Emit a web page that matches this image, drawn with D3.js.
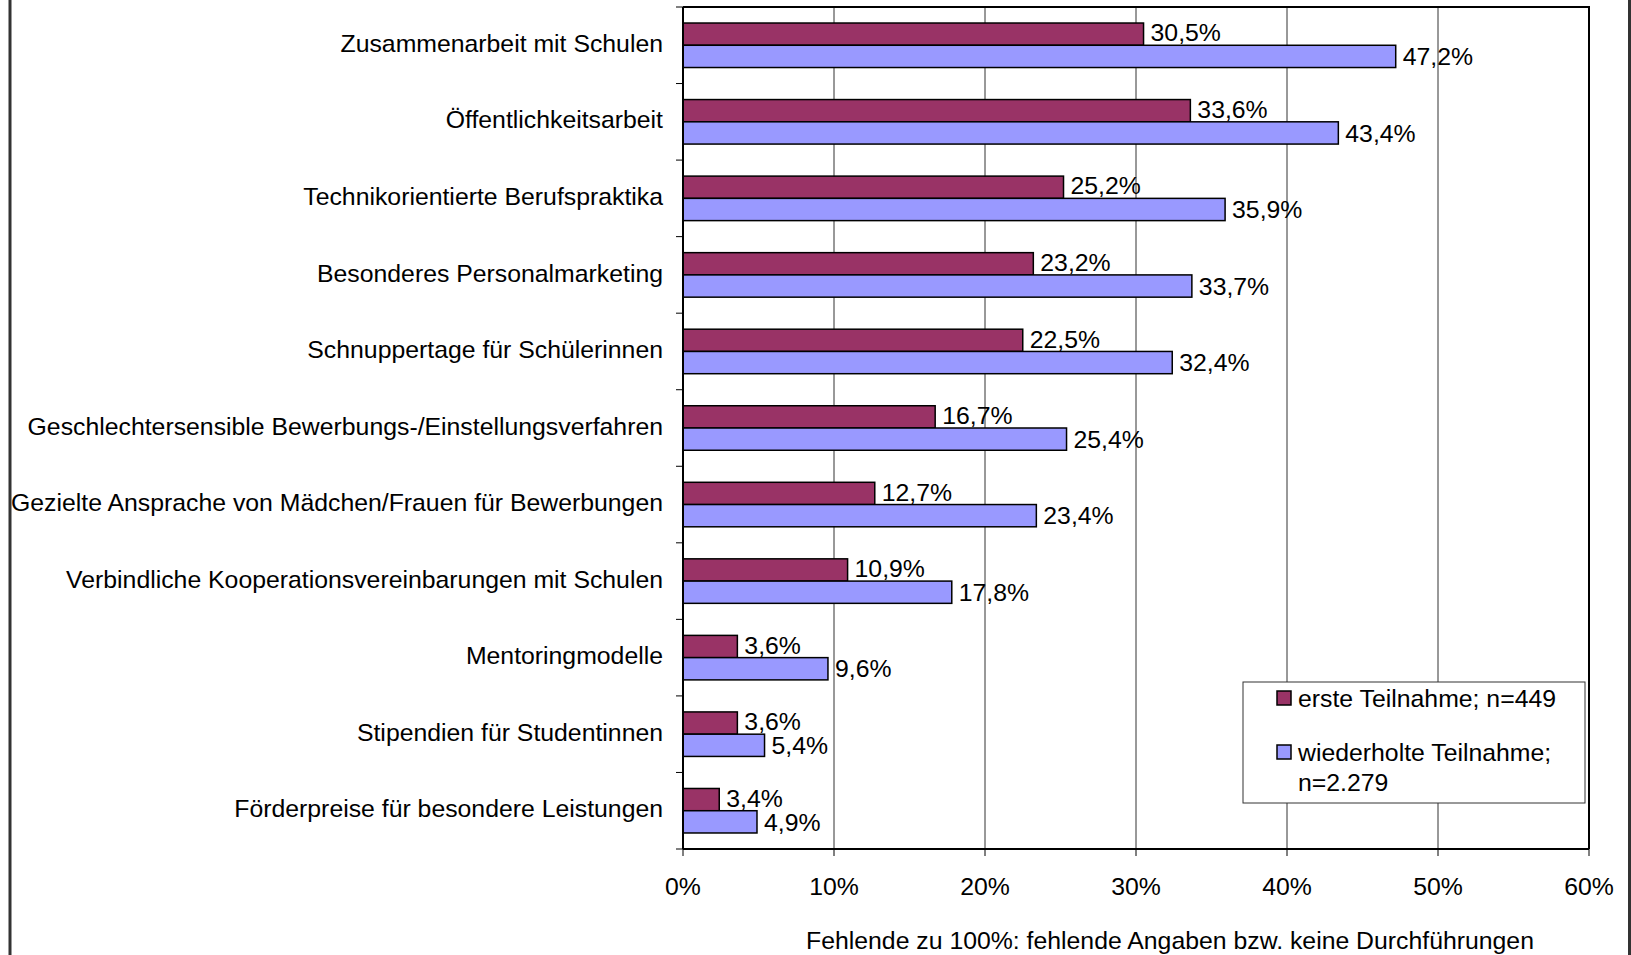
<!DOCTYPE html>
<html>
<head>
<meta charset="utf-8">
<script src="https://cdn.jsdelivr.net/npm/d3@7"></script>
<style>
  body { margin: 0; background: #fff; }
  svg text { font-family: "Liberation Sans", Arial, sans-serif; fill: #000; }
</style>
</head>
<body>
<div id="Chart"></div>
<script>
var w = 1631;
var h = 955;

var categories = [
    "Zusammenarbeit mit Schulen",
    "Öffentlichkeitsarbeit",
    "Technikorientierte Berufspraktika",
    "Besonderes Personalmarketing",
    "Schnuppertage für Schülerinnen",
    "Geschlechtersensible Bewerbungs-/Einstellungsverfahren",
    "Gezielte Ansprache von Mädchen/Frauen für Bewerbungen",
    "Verbindliche Kooperationsvereinbarungen mit Schulen",
    "Mentoringmodelle",
    "Stipendien für Studentinnen",
    "Förderpreise für besondere Leistungen"
];

// bar lengths as drawn (the last red bar is drawn shorter than its label says)
var erste = [30.5, 33.6, 25.2, 23.2, 22.5, 16.7, 12.7, 10.9, 3.6, 3.6, 2.4];
var wiederholte = [47.2, 43.4, 35.9, 33.7, 32.4, 25.4, 23.4, 17.8, 9.6, 5.4, 4.9];

// labels as printed on the chart
var ersteLabels = ["30,5%", "33,6%", "25,2%", "23,2%", "22,5%", "16,7%", "12,7%", "10,9%", "3,6%", "3,6%", "3,4%"];
var wiederholteLabels = ["47,2%", "43,4%", "35,9%", "33,7%", "32,4%", "25,4%", "23,4%", "17,8%", "9,6%", "5,4%", "4,9%"];

var xTicks = [0, 10, 20, 30, 40, 50, 60];
var seriesNames = ["erste Teilnahme; n=449", "wiederholte Teilnahme;|n=2.279"];
var seriesColors = ["#993366", "#9999FF"];
var footnote = "Fehlende zu 100%: fehlende Angaben bzw. keine Durchführungen";

var fs = 24.8;

var svg = d3.select("#Chart").append("svg")
    .attr("width", w)
    .attr("height", h);

var pLeft = 683, pRight = 1589, pTop = 7, pBottom = 849;

var x = d3.scaleLinear().domain([0, 60]).range([pLeft, pRight]);
var y = d3.scaleBand().domain(categories).range([pTop, pBottom]);
var sub = d3.scaleBand().domain([0, 1]).range([0, y.bandwidth()]).paddingOuter(0.72);

// outer frame lines
svg.append("line").attr("x1", 10).attr("x2", 10).attr("y1", 0).attr("y2", h)
    .attr("stroke", "#333").attr("stroke-width", 3);
svg.append("line").attr("x1", 1629.5).attr("x2", 1629.5).attr("y1", 0).attr("y2", h)
    .attr("stroke", "#333").attr("stroke-width", 3);

// gridlines
svg.append("g").selectAll("line")
    .data(xTicks.slice(1, -1))
    .enter()
    .append("line")
    .attr("x1", function(d){ return x(d); })
    .attr("x2", function(d){ return x(d); })
    .attr("y1", pTop)
    .attr("y2", pBottom)
    .attr("stroke", "#333")
    .attr("stroke-width", 1);

// plot border top / right
svg.append("path")
    .attr("d", "M" + pLeft + "," + pTop + "H" + pRight + "V" + pBottom)
    .attr("fill", "none")
    .attr("stroke", "#000")
    .attr("stroke-width", 2);

// bars
var data = [erste, wiederholte];
data.forEach(function(vals, s){
    svg.append("g").selectAll("rect")
        .data(vals)
        .enter()
        .append("rect")
        .attr("x", x(0))
        .attr("y", function(d, i){ return y(categories[i]) + sub(s); })
        .attr("width", function(d){ return x(d) - x(0); })
        .attr("height", sub.bandwidth())
        .attr("fill", seriesColors[s])
        .attr("stroke", "#000")
        .attr("stroke-width", 1.5);
});

// value labels
var labels = [ersteLabels, wiederholteLabels];
var labelShift = [-1.5, 0];
labels.forEach(function(lab, s){
    svg.append("g").selectAll("text")
        .data(lab)
        .enter()
        .append("text")
        .text(function(d){ return d; })
        .attr("x", function(d, i){ return x(data[s][i]) + 7; })
        .attr("y", function(d, i){ return y(categories[i]) + sub(s) + sub.bandwidth() / 2 + labelShift[s]; })
        .attr("dy", "0.35em")
        .attr("font-size", fs);
});

// y axis
var yAxis = svg.append("g")
    .attr("transform", "translate(" + pLeft + ",0)");
yAxis.append("line")
    .attr("x1", 0).attr("x2", 0).attr("y1", pTop).attr("y2", pBottom)
    .attr("stroke", "#000").attr("stroke-width", 2);
yAxis.selectAll(".tick")
    .data(categories.concat(["end"]))
    .enter()
    .append("line")
    .attr("x1", -7).attr("x2", 0)
    .attr("y1", function(d, i){ return pTop + i * y.step(); })
    .attr("y2", function(d, i){ return pTop + i * y.step(); })
    .attr("stroke", "#000").attr("stroke-width", 1);
yAxis.selectAll("text")
    .data(categories)
    .enter()
    .append("text")
    .text(function(d){ return d; })
    .attr("x", -20)
    .attr("y", function(d){ return y(d) + y.bandwidth() / 2 - 2; })
    .attr("dy", "0.35em")
    .attr("text-anchor", "end")
    .attr("font-size", fs);

// x axis
var xAxis = svg.append("g")
    .attr("transform", "translate(0," + pBottom + ")");
xAxis.append("line")
    .attr("x1", pLeft).attr("x2", pRight).attr("y1", 0).attr("y2", 0)
    .attr("stroke", "#000").attr("stroke-width", 2);
xAxis.selectAll(".tick")
    .data(xTicks)
    .enter()
    .append("line")
    .attr("x1", function(d){ return x(d); })
    .attr("x2", function(d){ return x(d); })
    .attr("y1", 0).attr("y2", 7)
    .attr("stroke", "#000").attr("stroke-width", 1);
xAxis.selectAll("text")
    .data(xTicks)
    .enter()
    .append("text")
    .text(function(d){ return d + "%"; })
    .attr("x", function(d){ return x(d); })
    .attr("y", 37)
    .attr("dy", "0.35em")
    .attr("text-anchor", "middle")
    .attr("font-size", fs);

// footnote
svg.append("text")
    .text(footnote)
    .attr("x", 1170)
    .attr("y", 940)
    .attr("dy", "0.35em")
    .attr("text-anchor", "middle")
    .attr("font-size", fs);

// legend
var leg = svg.append("g");
leg.append("rect")
    .attr("x", 1243).attr("y", 682)
    .attr("width", 342).attr("height", 121)
    .attr("fill", "#fff")
    .attr("stroke", "#333")
    .attr("stroke-width", 1);
var legY = [698, 752];
seriesNames.forEach(function(name, s){
    leg.append("rect")
        .attr("x", 1277).attr("y", legY[s] - 7)
        .attr("width", 14).attr("height", 14)
        .attr("fill", seriesColors[s])
        .attr("stroke", "#000")
        .attr("stroke-width", 1.5);
    name.split("|").forEach(function(line, j){
        leg.append("text")
            .text(line)
            .attr("x", 1298)
            .attr("y", legY[s] + j * 30)
            .attr("dy", "0.35em")
            .attr("font-size", fs);
    });
});
</script>
</body>
</html>
